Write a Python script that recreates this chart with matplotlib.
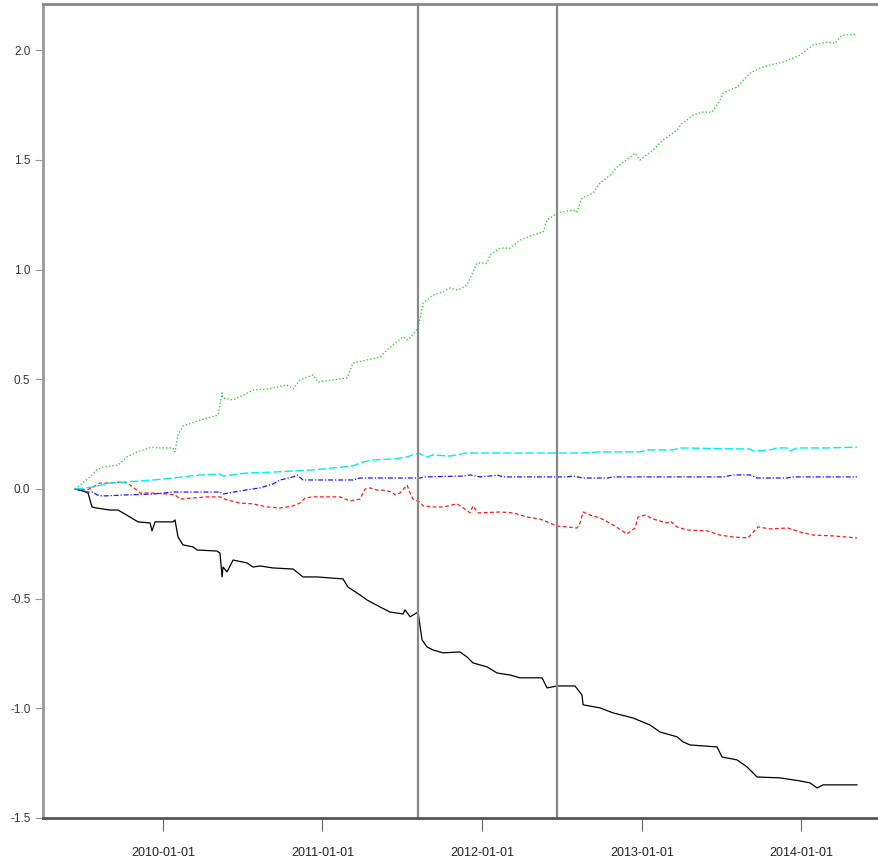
import numpy as np
import pandas as pd
import matplotlib
matplotlib.use("Agg")
import matplotlib.pyplot as plt
import matplotlib.dates as mdates

# ---- data (time in decimal years) ----
green_t = [2009.449, 2009.480, 2009.543, 2009.586, 2009.624, 2009.718, 2009.774, 2009.837, 2009.931, 2009.981,
           2010.063, 2010.075, 2010.094, 2010.125, 2010.232, 2010.345, 2010.370, 2010.376, 2010.439, 2010.501,
           2010.564, 2010.652, 2010.777, 2010.815, 2010.858, 2010.940, 2010.971, 2011.065, 2011.153, 2011.190,
           2011.278, 2011.360, 2011.422, 2011.504, 2011.535, 2011.598, 2011.617, 2011.629, 2011.692, 2011.749,
           2011.798, 2011.848, 2011.905, 2011.967, 2012.030, 2012.049, 2012.112, 2012.174, 2012.237, 2012.318,
           2012.381, 2012.406, 2012.469, 2012.569, 2012.594, 2012.625, 2012.694, 2012.738, 2012.801, 2012.845,
           2012.926, 2012.957, 2012.989, 2013.070, 2013.133, 2013.221, 2013.252, 2013.283, 2013.321, 2013.383,
           2013.440, 2013.490, 2013.509, 2013.596, 2013.678, 2013.741, 2013.803, 2013.885, 2013.991, 2014.073,
           2014.160, 2014.211, 2014.254, 2014.348]
green_v = [0.000, 0.018, 0.055, 0.087, 0.100, 0.109, 0.146, 0.169, 0.191, 0.187,
           0.187, 0.169, 0.246, 0.287, 0.314, 0.337, 0.438, 0.415, 0.406, 0.428,
           0.451, 0.456, 0.474, 0.456, 0.497, 0.520, 0.488, 0.497, 0.506, 0.574,
           0.588, 0.602, 0.647, 0.693, 0.679, 0.734, 0.802, 0.848, 0.884, 0.898,
           0.916, 0.907, 0.930, 1.030, 1.030, 1.067, 1.098, 1.098, 1.135, 1.158,
           1.171, 1.226, 1.258, 1.272, 1.263, 1.326, 1.349, 1.395, 1.431, 1.468,
           1.513, 1.531, 1.500, 1.545, 1.591, 1.636, 1.668, 1.682, 1.705, 1.718,
           1.718, 1.773, 1.805, 1.832, 1.896, 1.919, 1.933, 1.946, 1.978, 2.024,
           2.037, 2.033, 2.069, 2.074]

cyan_t = [2009.449, 2009.561, 2009.668, 2009.774, 2009.937, 2010.063, 2010.232, 2010.357, 2010.376, 2010.526,
          2010.689, 2010.815, 2010.940, 2011.065, 2011.190, 2011.253, 2011.316, 2011.441, 2011.485, 2011.529,
          2011.598, 2011.654, 2011.692, 2011.798, 2011.873, 2011.905, 2012.193, 2012.469, 2012.632, 2012.738,
          2012.989, 2013.033, 2013.195, 2013.239, 2013.678, 2013.697, 2013.803, 2013.847, 2013.910, 2013.929,
          2013.972, 2014.160, 2014.348]
cyan_v = [0.000, 0.009, 0.027, 0.032, 0.041, 0.050, 0.064, 0.068, 0.059, 0.073,
          0.077, 0.082, 0.087, 0.096, 0.105, 0.123, 0.132, 0.137, 0.141, 0.146,
          0.164, 0.146, 0.155, 0.150, 0.160, 0.164, 0.164, 0.164, 0.164, 0.169,
          0.169, 0.178, 0.178, 0.187, 0.182, 0.173, 0.178, 0.187, 0.187, 0.173,
          0.187, 0.187, 0.191]

blue_t = [2009.449, 2009.524, 2009.561, 2009.586, 2009.618, 2009.774, 2009.937, 2010.063, 2010.188, 2010.357,
          2010.376, 2010.482, 2010.608, 2010.689, 2010.733, 2010.815, 2010.840, 2010.877, 2011.028, 2011.190,
          2011.234, 2011.441, 2011.610, 2011.642, 2011.880, 2011.924, 2011.986, 2012.049, 2012.093, 2012.130,
          2012.531, 2012.569, 2012.632, 2012.782, 2012.820, 2013.509, 2013.571, 2013.678, 2013.722, 2013.910,
          2013.947, 2014.348]
blue_v = [0.000, -0.014, -0.014, -0.027, -0.032, -0.027, -0.023, -0.014, -0.014, -0.014,
          -0.023, -0.009, 0.005, 0.023, 0.041, 0.055, 0.064, 0.041, 0.041, 0.041,
          0.050, 0.050, 0.050, 0.055, 0.059, 0.064, 0.055, 0.059, 0.064, 0.055,
          0.055, 0.059, 0.050, 0.050, 0.055, 0.055, 0.064, 0.064, 0.050, 0.050,
          0.055, 0.055]

red_t = [2009.449, 2009.524, 2009.561, 2009.605, 2009.668, 2009.743, 2009.774, 2009.812, 2009.856, 2009.919,
         2010.025, 2010.075, 2010.107, 2010.188, 2010.276, 2010.357, 2010.401, 2010.482, 2010.564, 2010.652,
         2010.733, 2010.815, 2010.858, 2010.890, 2010.940, 2011.028, 2011.109, 2011.172, 2011.234, 2011.266,
         2011.297, 2011.341, 2011.378, 2011.435, 2011.454, 2011.485, 2011.529, 2011.548, 2011.566, 2011.610,
         2011.629, 2011.692, 2011.754, 2011.842, 2011.873, 2011.924, 2011.942, 2011.974, 2012.112, 2012.193,
         2012.281, 2012.362, 2012.469, 2012.531, 2012.594, 2012.613, 2012.632, 2012.676, 2012.738, 2012.820,
         2012.907, 2012.957, 2012.976, 2013.020, 2013.070, 2013.158, 2013.177, 2013.221, 2013.283, 2013.409,
         2013.490, 2013.571, 2013.665, 2013.728, 2013.803, 2013.916, 2013.991, 2014.073, 2014.198, 2014.348]
red_v = [0.000, -0.005, 0.009, 0.027, 0.027, 0.032, 0.027, 0.009, -0.018, -0.018,
         -0.023, -0.027, -0.046, -0.041, -0.036, -0.036, -0.050, -0.064, -0.068, -0.082,
         -0.087, -0.077, -0.064, -0.041, -0.036, -0.036, -0.036, -0.055, -0.046, 0.000,
         0.005, -0.005, -0.005, -0.014, -0.027, -0.018, 0.018, -0.018, -0.046, -0.059,
         -0.077, -0.082, -0.082, -0.068, -0.082, -0.109, -0.077, -0.109, -0.105, -0.109,
         -0.128, -0.137, -0.169, -0.173, -0.178, -0.155, -0.105, -0.119, -0.132, -0.164,
         -0.205, -0.178, -0.128, -0.119, -0.137, -0.155, -0.146, -0.173, -0.187, -0.191,
         -0.210, -0.219, -0.223, -0.173, -0.182, -0.178, -0.196, -0.210, -0.214, -0.223]

black_t = [2009.449, 2009.499, 2009.530, 2009.555, 2009.586, 2009.668, 2009.718, 2009.749, 2009.793, 2009.843,
           2009.919, 2009.931, 2009.950, 2010.063, 2010.075, 2010.094, 2010.125, 2010.188, 2010.213, 2010.338,
           2010.357, 2010.370, 2010.376, 2010.401, 2010.439, 2010.526, 2010.564, 2010.608, 2010.689, 2010.815,
           2010.877, 2010.965, 2011.128, 2011.159, 2011.234, 2011.278, 2011.360, 2011.422, 2011.504, 2011.516,
           2011.548, 2011.598, 2011.623, 2011.654, 2011.692, 2011.754, 2011.861, 2011.905, 2011.942, 2012.030,
           2012.093, 2012.174, 2012.237, 2012.375, 2012.406, 2012.469, 2012.581, 2012.625, 2012.632, 2012.738,
           2012.820, 2012.945, 2013.051, 2013.114, 2013.221, 2013.258, 2013.302, 2013.471, 2013.503, 2013.596,
           2013.659, 2013.722, 2013.865, 2013.991, 2014.054, 2014.098, 2014.135, 2014.348]
black_v = [0.000, -0.009, -0.018, -0.082, -0.087, -0.096, -0.096, -0.109, -0.128, -0.150,
           -0.155, -0.191, -0.150, -0.150, -0.141, -0.219, -0.255, -0.264, -0.278, -0.283,
           -0.292, -0.401, -0.356, -0.378, -0.324, -0.337, -0.356, -0.351, -0.360, -0.365,
           -0.401, -0.401, -0.410, -0.447, -0.483, -0.506, -0.538, -0.561, -0.570, -0.551,
           -0.583, -0.561, -0.688, -0.720, -0.734, -0.747, -0.743, -0.766, -0.793, -0.811,
           -0.839, -0.848, -0.861, -0.861, -0.907, -0.898, -0.898, -0.939, -0.984, -0.998,
           -1.021, -1.044, -1.076, -1.108, -1.130, -1.153, -1.167, -1.176, -1.222, -1.235,
           -1.267, -1.313, -1.317, -1.331, -1.340, -1.363, -1.349, -1.349]

event_dates = ["2011-08-08", "2012-06-20"]
x_tick_labels = ["2010-01-01", "2011-01-01", "2012-01-01", "2013-01-01", "2014-01-01"]
y_ticks = [-1.5, -1.0, -0.5, 0.0, 0.5, 1.0, 1.5, 2.0]


def to_dates(t):
    t = np.asarray(t, dtype=float)
    base = pd.Timestamp("2009-01-01")
    return base + pd.to_timedelta((t - 2009.0) * 365.25, unit="D")


W, H = 879, 860
fig = plt.figure(figsize=(W / 100, H / 100), dpi=100)
ax = fig.add_axes([43 / W, 1 - 818 / H, 1 - 43 / W, (818 - 4) / H])

series = [
    (black_t, black_v, "#000000", "-", 0.9),
    (red_t, red_v, "#ff1a1a", (0, (3, 2)), 0.9),
    (green_t, green_v, "#3ad13a", (0, (1, 1.5)), 1.0),
    (blue_t, blue_v, "#1a1aff", (0, (4, 1.5, 1, 1.5)), 0.9),
    (cyan_t, cyan_v, "#00f0f0", (0, (6, 2)), 1.0),
]
for t, v, c, ls, lw in series:
    ax.plot(to_dates(t), v, color=c, linestyle=ls, linewidth=lw)

for d in event_dates:
    ax.axvline(pd.Timestamp(d), color="#888888", linewidth=1.6)

ax.set_xlim(to_dates([2009.248])[0], to_dates([2014.486])[0])
ax.set_ylim(-1.5, 2.211)

ax.set_yticks(y_ticks)
ax.set_yticklabels([f"{y:.1f}" for y in y_ticks])
ax.set_xticks([pd.Timestamp(s) for s in x_tick_labels])
ax.set_xticklabels(x_tick_labels)

narrow = ["Liberation Sans Narrow", "Liberation Sans", "DejaVu Sans"]
for lab in ax.get_xticklabels():
    lab.set_fontfamily(narrow)
    lab.set_fontsize(9)
    lab.set_color("#222222")
for lab in ax.get_yticklabels():
    lab.set_fontfamily(["Liberation Sans", "DejaVu Sans"])
    lab.set_fontsize(8.5)
    lab.set_color("#333333")

ax.tick_params(axis="y", direction="out", length=6, width=0.8, color="#999999", pad=3)
ax.tick_params(axis="x", direction="out", length=9, width=0.8, color="#666666", pad=12)

ax.spines["right"].set_visible(False)
ax.spines["left"].set_color("#999999")
ax.spines["left"].set_linewidth(2.0)
ax.spines["top"].set_color("#888888")
ax.spines["top"].set_linewidth(2.0)
ax.spines["bottom"].set_color("#555555")
ax.spines["bottom"].set_linewidth(2.0)

fig.savefig("out.png", dpi=100)
